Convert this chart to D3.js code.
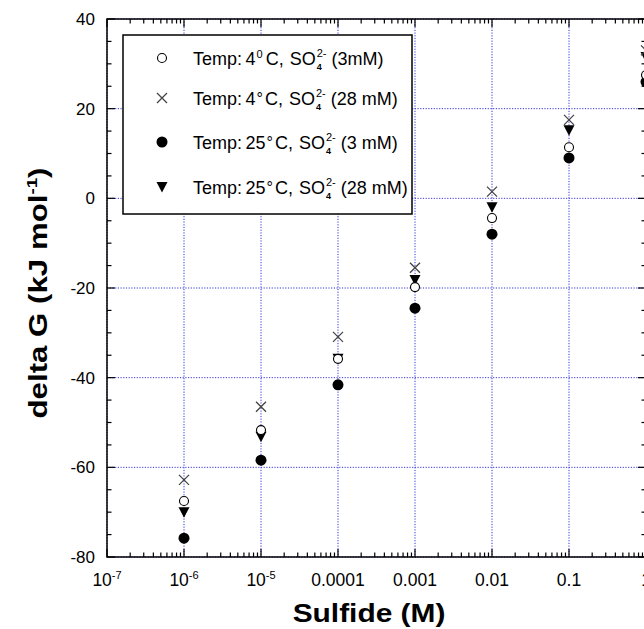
<!DOCTYPE html>
<html><head><meta charset="utf-8">
<script src="https://cdn.jsdelivr.net/npm/d3@7"></script>
<style>body{margin:0;background:#fff;} svg{display:block;font-family:"Liberation Sans",Arial,sans-serif;}</style>
</head><body>
<svg id="c" width="644" height="629"></svg>
<script>
// ---- data ----
const sulfide = [1e-6, 1e-5, 1e-4, 1e-3, 1e-2, 1e-1, 1];
const t4_3mM   = [-67.5, -51.7, -35.8, -19.8, -4.4, 11.4, 27.5];
const t4_28mM  = [-62.8, -46.5, -30.9, -15.5, 1.5, 17.5, 33];
const t25_3mM  = [-75.8, -58.4, -41.6, -24.5, -8.0, 9.0, 26];
const t25_28mM = [-70.0, -53.2, -35.8, -18.2, -2.0, 15.2, 31.5];
const yTicks = [-80, -60, -40, -20, 0, 20, 40];
const xTicks = [1e-7, 1e-6, 1e-5, 1e-4, 1e-3, 1e-2, 1e-1, 1];
const xTickLabels = [["10","-7"],["10","-6"],["10","-5"],["0.0001",""],["0.001",""],["0.01",""],["0.1",""],["1",""]];
const seriesTemps = ["4","4","25","25"];
const seriesConc = ["(3mM)", "(28 mM)", "(3 mM)", "(28 mM)"];

const svg = d3.select("#c");
const L = 107, R = 646, T = 19, B = 557;
const x = d3.scaleLog().domain([1e-7, 1]).range([L, R]);
const y = d3.scaleLinear().domain([-80, 40]).range([B, T]);

// grid
const grid = svg.append("g").attr("stroke", "#3535d8").attr("stroke-width", 1).attr("stroke-dasharray", "1.2,1.5");
xTicks.forEach(v => grid.append("line").attr("x1", x(v)).attr("x2", x(v)).attr("y1", T).attr("y2", B));
yTicks.forEach(v => grid.append("line").attr("x1", L).attr("x2", R).attr("y1", y(v)).attr("y2", y(v)));

// ticks
const minorX = [];
for (let e = -7; e < 0; e++) for (let m = 2; m <= 9; m++) minorX.push(m * Math.pow(10, e));
const minorY = d3.range(-80, 41, 5).filter(v => v % 20 !== 0);
const tk = svg.append("g").attr("stroke", "#000").attr("stroke-width", 1.2);
xTicks.forEach(v => { tk.append("line").attr("x1", x(v)).attr("x2", x(v)).attr("y1", B).attr("y2", B - 8);
                      tk.append("line").attr("x1", x(v)).attr("x2", x(v)).attr("y1", T).attr("y2", T + 8); });
minorX.forEach(v => { tk.append("line").attr("x1", x(v)).attr("x2", x(v)).attr("y1", B).attr("y2", B - 4.5);
                      tk.append("line").attr("x1", x(v)).attr("x2", x(v)).attr("y1", T).attr("y2", T + 4.5); });
yTicks.forEach(v => { tk.append("line").attr("x1", L).attr("x2", L + 8).attr("y1", y(v)).attr("y2", y(v));
                      tk.append("line").attr("x1", R).attr("x2", R - 8).attr("y1", y(v)).attr("y2", y(v)); });
minorY.forEach(v => { tk.append("line").attr("x1", L).attr("x2", L + 4.5).attr("y1", y(v)).attr("y2", y(v));
                      tk.append("line").attr("x1", R).attr("x2", R - 4.5).attr("y1", y(v)).attr("y2", y(v)); });

// frame
svg.append("rect").attr("x", L).attr("y", T).attr("width", R - L).attr("height", B - T)
  .attr("fill", "none").attr("stroke", "#000").attr("stroke-width", 1.5);

// tick labels
yTicks.forEach(v => svg.append("text").attr("x", 95).attr("y", y(v) + 6).attr("text-anchor", "end")
  .attr("font-size", 17).text(v));
xTickLabels.forEach((lab, i) => {
  const t = svg.append("text").attr("x", x(xTicks[i])).attr("y", 586).attr("text-anchor", "middle").attr("font-size", 17.5);
  t.append("tspan").text(lab[0]);
  if (lab[1]) t.append("tspan").attr("font-size", 11).attr("dy", -7).text(lab[1]);
});

// axis titles
svg.append("text").attr("transform", "translate(369,622) scale(1.15,1)").attr("text-anchor", "middle").attr("font-size", 26)
  .attr("font-weight", "bold").text("Sulfide (M)");
const yt = svg.append("text").attr("transform", "translate(47,293) rotate(-90) scale(1.25,1)").attr("text-anchor", "middle")
  .attr("font-size", 25).attr("font-weight", "bold");
yt.append("tspan").text("delta G (kJ mol");
yt.append("tspan").attr("font-size", 15).attr("dy", -10).text("-1");
yt.append("tspan").attr("dy", 10).text(")");

// markers
const sym = {
  open: (g, cx, cy) => g.append("circle").attr("cx", cx).attr("cy", cy).attr("r", 4.5).attr("fill", "#fff").attr("stroke", "#000").attr("stroke-width", 1.1),
  cross: (g, cx, cy) => g.append("path").attr("d", `M${cx-5},${cy-5}L${cx+5},${cy+5}M${cx-5},${cy+5}L${cx+5},${cy-5}`).attr("stroke", "#444").attr("stroke-width", 1.3).attr("fill", "none"),
  filled: (g, cx, cy) => g.append("circle").attr("cx", cx).attr("cy", cy).attr("r", 5.5).attr("fill", "#000"),
  tri: (g, cx, cy) => g.append("path").attr("d", `M${cx-5.5},${cy-5}L${cx+5.5},${cy-5}L${cx},${cy+5.5}Z`).attr("fill", "#000")
};
const series = [
  {vals: t4_3mM, s: "open"},
  {vals: t4_28mM, s: "cross"},
  {vals: t25_3mM, s: "filled"},
  {vals: t25_28mM, s: "tri"}
];
const pts = svg.append("g");
[2, 3, 0, 1].forEach(k => {
  const se = series[k];
  se.vals.forEach((v, i) => sym[se.s](pts, x(sulfide[i]), y(v)));
});

// legend
const lg = svg.append("g");
lg.append("rect").attr("x", 123).attr("y", 35).attr("width", 289).attr("height", 179)
  .attr("fill", "#fff").attr("stroke", "#000").attr("stroke-width", 1.5);
const rowsY = [58, 98, 142, 187];
const FS = 18;
function piece(g, px, py, str, fs, fw) {
  const t = g.append("text").attr("x", px).attr("y", py).attr("font-size", fs).text(str);
  if (fw) t.attr("font-weight", fw);
  return px + t.node().getComputedTextLength();
}
series.forEach((se, i) => {
  const cy = rowsY[i];
  sym[se.s](lg, 162, cy);
  const base = cy + 6.5;
  let cx = 193;
  cx = piece(lg, cx, base, "Temp:", FS) + 3.5;
  cx = piece(lg, cx, base, seriesTemps[i], FS) + 1;
  if (i === 0) cx = piece(lg, cx, base - 7, "0", 11) + 3;
  else cx = piece(lg, cx, base - 1, "°", 16) + 2;
  cx = piece(lg, cx, base, "C,", FS) + 6;
  cx = piece(lg, cx, base, "SO", FS);
  const a = piece(lg, cx + 1, base + 5, "4", 9, "bold");
  const b = piece(lg, cx + 1, base - 8, "2-", 11);
  cx = Math.max(a, b) + 5;
  piece(lg, cx, base, seriesConc[i], FS);
});
</script>
</body></html>
